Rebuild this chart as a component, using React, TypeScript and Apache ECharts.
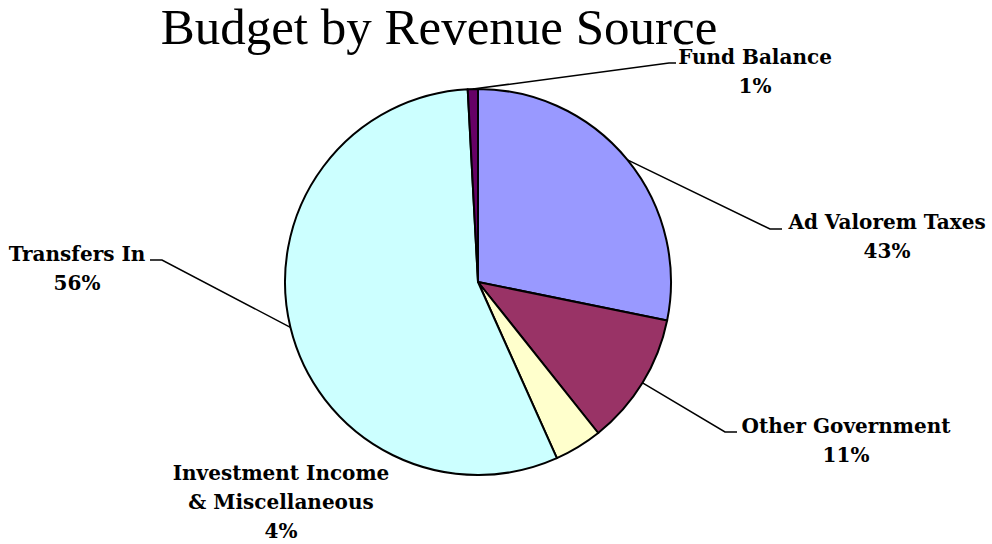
import React, { useEffect, useRef } from "react";
import * as echarts from "echarts";

const categories = [
  "Ad Valorem Taxes",
  "Other Government",
  "Investment Income\n& Miscellaneous",
  "Transfers In",
  "Fund Balance",
];
// slice sizes as drawn (percent of the circle)
const sliceValues = [28.2, 11.1, 4.0, 55.85, 0.85];
// percentages printed in the labels
const labelPercents = ["43%", "11%", "4%", "56%", "1%"];
const colors = ["#9999FF", "#993366", "#FFFFCC", "#CCFFFF", "#660066"];

const CX = 478;
const CY = 282;
const R = 193;

// label placement: text block center (x, y) and label-line elbow (ex, ey) plus horizontal tail length
const labelPlaces = [
  { x: 887, y: 236, ex: 770, ey: 229, tail: 12, line: true },
  { x: 846, y: 440, ex: 725, ey: 432, tail: 12, line: true },
  { x: 281, y: 502, ex: 0, ey: 0, tail: 0, line: false },
  { x: 77, y: 268, ex: 162, ey: 260, tail: -12, line: true },
  { x: 755, y: 71, ex: 669, ey: 63, tail: 7, line: true },
];

const LABEL_FONT = "'DejaVu Serif', serif";
const TITLE_FONT = "'Liberation Serif', serif";

export default function App() {
  const ref = useRef<HTMLDivElement>(null);
  useEffect(() => {
    if (!ref.current) return;
    const chart = echarts.init(ref.current, undefined, { renderer: "svg" });
    const total = sliceValues.reduce((a, b) => a + b, 0);
    const mids: number[] = [];
    let acc = 0;
    sliceValues.forEach((v) => {
      mids.push(((acc + v / 2) / total) * Math.PI * 2);
      acc += v;
    });
    chart.setOption({
      animation: false,
      graphic: [
        {
          type: "text",
          x: 439,
          y: 27,
          style: {
            text: "Budget by Revenue Source",
            fill: "#000",
            font: `51px ${TITLE_FONT}`,
            align: "center",
            verticalAlign: "middle",
          },
        },
      ],
      series: [
        {
          type: "pie",
          center: [CX, CY],
          radius: R,
          startAngle: 90,
          clockwise: true,
          avoidLabelOverlap: false,
          itemStyle: { borderColor: "#000", borderWidth: 2 },
          label: {
            show: true,
            position: "outside",
            color: "#000",
            fontFamily: LABEL_FONT,
            fontWeight: "bold",
            fontSize: 20,
            lineHeight: 29,
            align: "center",
            formatter: (p: any) => `${categories[p.dataIndex]}\n${labelPercents[p.dataIndex]}`,
          },
          labelLine: {
            show: true,
            lineStyle: { color: "#000", width: 1.5 },
          },
          labelLayout: (p: any) => {
            const i = p.dataIndex;
            const pl = labelPlaces[i];
            const a = mids[i];
            const ax = CX + R * Math.sin(a);
            const ay = CY - R * Math.cos(a);
            const res: any = {
              x: pl.x,
              y: pl.y,
              align: "center",
              verticalAlign: "middle",
            };
            if (pl.line) {
              res.labelLinePoints = [
                [ax, ay],
                [pl.ex, pl.ey],
                [pl.ex + pl.tail, pl.ey],
              ];
            }
            return res;
          },
          data: categories.map((c, i) => ({
            name: c,
            value: sliceValues[i],
            itemStyle: { color: colors[i] },
            labelLine: { show: labelPlaces[i].line },
          })),
        },
      ],
    });
    return () => chart.dispose();
  }, []);
  return (
    <div
      ref={ref}
      style={{ position: "fixed", left: 0, top: 0, width: 992, height: 544, background: "#fff" }}
    />
  );
}
